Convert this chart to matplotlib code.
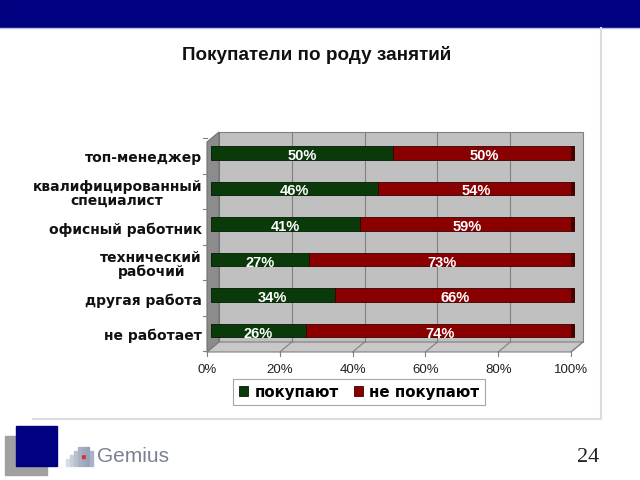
import numpy as np
import matplotlib
matplotlib.use("Agg")
import matplotlib.pyplot as plt
from matplotlib.patches import Polygon, Rectangle
from matplotlib.transforms import IdentityTransform, ScaledTranslation

categories = ['топ-менеджер', 'квалифицированный\nспециалист', 'офисный работник',
              'технический\nрабочий', 'другая работа', 'не работает']
buy = [50, 46, 41, 27, 34, 26]
no_buy = [50, 54, 59, 73, 66, 74]
series_names = ['покупают', 'не покупают']
xticks = [0, 20, 40, 60, 80, 100]
xtick_labels = ['0%', '20%', '40%', '60%', '80%', '100%']

GREEN = '#0a3a0a'
RED = '#8a0000'
W, H = 640, 480

def px(x, y):
    # slide pixel -> figure fraction
    return x / W, 1 - y / H

fig = plt.figure(figsize=(6.4, 4.8), dpi=100)
fig.patch.set_facecolor('white')

# slide decoration
fig.patches.append(Rectangle(px(0, 27), 1, 27 / H, transform=fig.transFigure,
                             color='#000080', zorder=0))
fig.add_artist(plt.Line2D([0, 1], [1 - 28 / H] * 2, color='#b8c4e0', lw=1))
fig.add_artist(plt.Line2D([601 / W] * 2, [1 - 28 / H, 1 - 419 / H], color='#dcdcdc', lw=1.5))
fig.add_artist(plt.Line2D([33 / W, 601 / W], [1 - 419 / H] * 2, color='#dcdcdc', lw=1.5))

fig.text(*px(317, 55), 'Покупатели по роду занятий', ha='center', va='center',
         fontsize=13.6, fontweight='bold', family='Liberation Sans', color='#111111')

# chart
ax = fig.add_axes([211 / W, 1 - 349 / H, 364 / W, 210 / H])
y = np.arange(len(categories))
ax.set_xlim(0, 100)
ax.set_ylim(5.52, -0.394)
ax.set_facecolor('none')
for s in ax.spines.values():
    s.set_visible(False)

front = (-4, -3)
back = (8, 7)

def pt(x, yf, d):
    X = ax.transData.transform((x, 0))[0]
    Y = ax.transAxes.transform((0, yf))[1]
    return (X + d[0], Y + d[1])

idt = IdentityTransform()
wall = [pt(0, 0, back), pt(100, 0, back), pt(100, 1, back), pt(0, 1, back)]
ax.add_patch(Polygon(wall, closed=True, facecolor='#c0c0c0', edgecolor='#808080',
                     lw=0.8, transform=idt, clip_on=False, zorder=0))
side = [pt(0, 0, front), pt(0, 0, back), pt(0, 1, back), pt(0, 1, front)]
ax.add_patch(Polygon(side, closed=True, facecolor='#8c8c8c', edgecolor='#707070',
                     lw=0.8, transform=idt, clip_on=False, zorder=0))
floor = [pt(0, 0, front), pt(100, 0, front), pt(100, 0, back), pt(0, 0, back)]
ax.add_patch(Polygon(floor, closed=True, facecolor='#c8c8c8', edgecolor='#808080',
                     lw=0.8, transform=idt, clip_on=False, zorder=0))
for xv in xticks:
    a, b = pt(xv, 0, front), pt(xv, 0, back)
    ax.add_line(plt.Line2D([a[0], b[0]], [a[1], b[1]], color='#808080', lw=0.8,
                           transform=idt, clip_on=False, zorder=0.5))
    ax.add_line(plt.Line2D([a[0], a[0]], [a[1], a[1] - 4], color='#808080', lw=0.8,
                           transform=idt, clip_on=False, zorder=0.5))
    if 0 < xv < 100:
        a, b = pt(xv, 0, back), pt(xv, 1, back)
        ax.add_line(plt.Line2D([a[0], b[0]], [a[1], b[1]], color='#808080', lw=0.8,
                               transform=idt, clip_on=False, zorder=0.5))
# category boundary ticks on the side wall
for i in range(len(categories) + 1):
    yf = ax.transAxes.inverted().transform(ax.transData.transform((0, i - 0.5)))[1]
    a = pt(0, yf, front)
    ax.add_line(plt.Line2D([a[0] - 4, a[0]], [a[1], a[1]], color='#808080', lw=0.8,
                           transform=idt, clip_on=False, zorder=0.5))

bh = 0.39
ax.barh(y, buy, height=bh, color=GREEN, edgecolor='#021a02', lw=0.6, zorder=2,
        label=series_names[0])
ax.barh(y, no_buy, left=buy, height=bh, color=RED, edgecolor='#3a0000', lw=0.6, zorder=2,
        label=series_names[1])
totals = np.array(buy) + np.array(no_buy)
ax.barh(y, 1.0, left=totals - 1.0, height=bh, color='#450000', lw=0, zorder=2.5)

down = ScaledTranslation(0, -0.03, fig.dpi_scale_trans)
for i in range(len(categories)):
    ax.text(buy[i] / 2, y[i], f'{buy[i]}%', ha='center', va='center', color='white',
            fontsize=10.5, fontweight='bold', family='Liberation Sans',
            transform=ax.transData + down, zorder=3)
    ax.text(buy[i] + no_buy[i] / 2, y[i], f'{no_buy[i]}%', ha='center', va='center',
            color='white', fontsize=10.5, fontweight='bold', family='Liberation Sans',
            transform=ax.transData + down, zorder=3)

ax.set_yticks(y, categories)
ax.tick_params(axis='y', length=0, pad=6.5)
for lab in ax.get_yticklabels():
    lab.set_fontsize(10)
    lab.set_fontweight('bold')
    lab.set_family('DejaVu Sans')
    lab.set_multialignment('center')
    lab.set_linespacing(1.0)
    lab.set_color('#111111')
    lab.set_transform(lab.get_transform() + ScaledTranslation(0, -0.04, fig.dpi_scale_trans))

ax.set_xticks(xticks, xtick_labels)
ax.tick_params(axis='x', length=0, pad=11)
for lab in ax.get_xticklabels():
    lab.set_fontsize(9.5)
    lab.set_family('Liberation Sans')
    lab.set_color('#222222')
    lab.set_transform(lab.get_transform() + ScaledTranslation(-0.04, 0, fig.dpi_scale_trans))

handles, labels = ax.get_legend_handles_labels()
leg = fig.legend(handles[:2], labels[:2], loc='center', bbox_to_anchor=px(359, 392),
                 ncol=2, frameon=True, fancybox=False, edgecolor='#909090',
                 handlelength=0.6, handleheight=0.6, handletextpad=0.45,
                 columnspacing=1.0, borderpad=0.35,
                 prop={'family': 'DejaVu Sans', 'weight': 'bold', 'size': 10.8})
leg.get_frame().set_linewidth(0.8)

# footer
fig.patches.append(Rectangle(px(5, 475), 42 / W, 39 / H, transform=fig.transFigure,
                             color='#a0a0a0', zorder=1))
fig.patches.append(Rectangle(px(16, 466), 41 / W, 40 / H, transform=fig.transFigure,
                             color='#000080', zorder=2))
logo_heights = [2, 3, 4, 5, 5, 5, 4]
logo_colors = ['#d8dce4', '#c8ceda', '#b8c0d0', '#a8b2c6', '#a0aabf', '#98a2b8', '#a8b2c6']
for c, (n, col) in enumerate(zip(logo_heights, logo_colors)):
    for r in range(n):
        fc = '#d83030' if (c == 4 and r == 2) else col
        fig.patches.append(Rectangle(px(66 + c * 4, 466 - r * 4), 3 / W, 3 / H,
                                     transform=fig.transFigure, color=fc, zorder=2))
fig.text(*px(97, 456), 'Gemius', ha='left', va='center', fontsize=15,
         family='Liberation Sans', color='#7a8090')
fig.text(*px(588, 458), '24', ha='center', va='center', fontsize=16,
         family='Liberation Serif', color='#222222')

fig.savefig('out.png', dpi=100)
